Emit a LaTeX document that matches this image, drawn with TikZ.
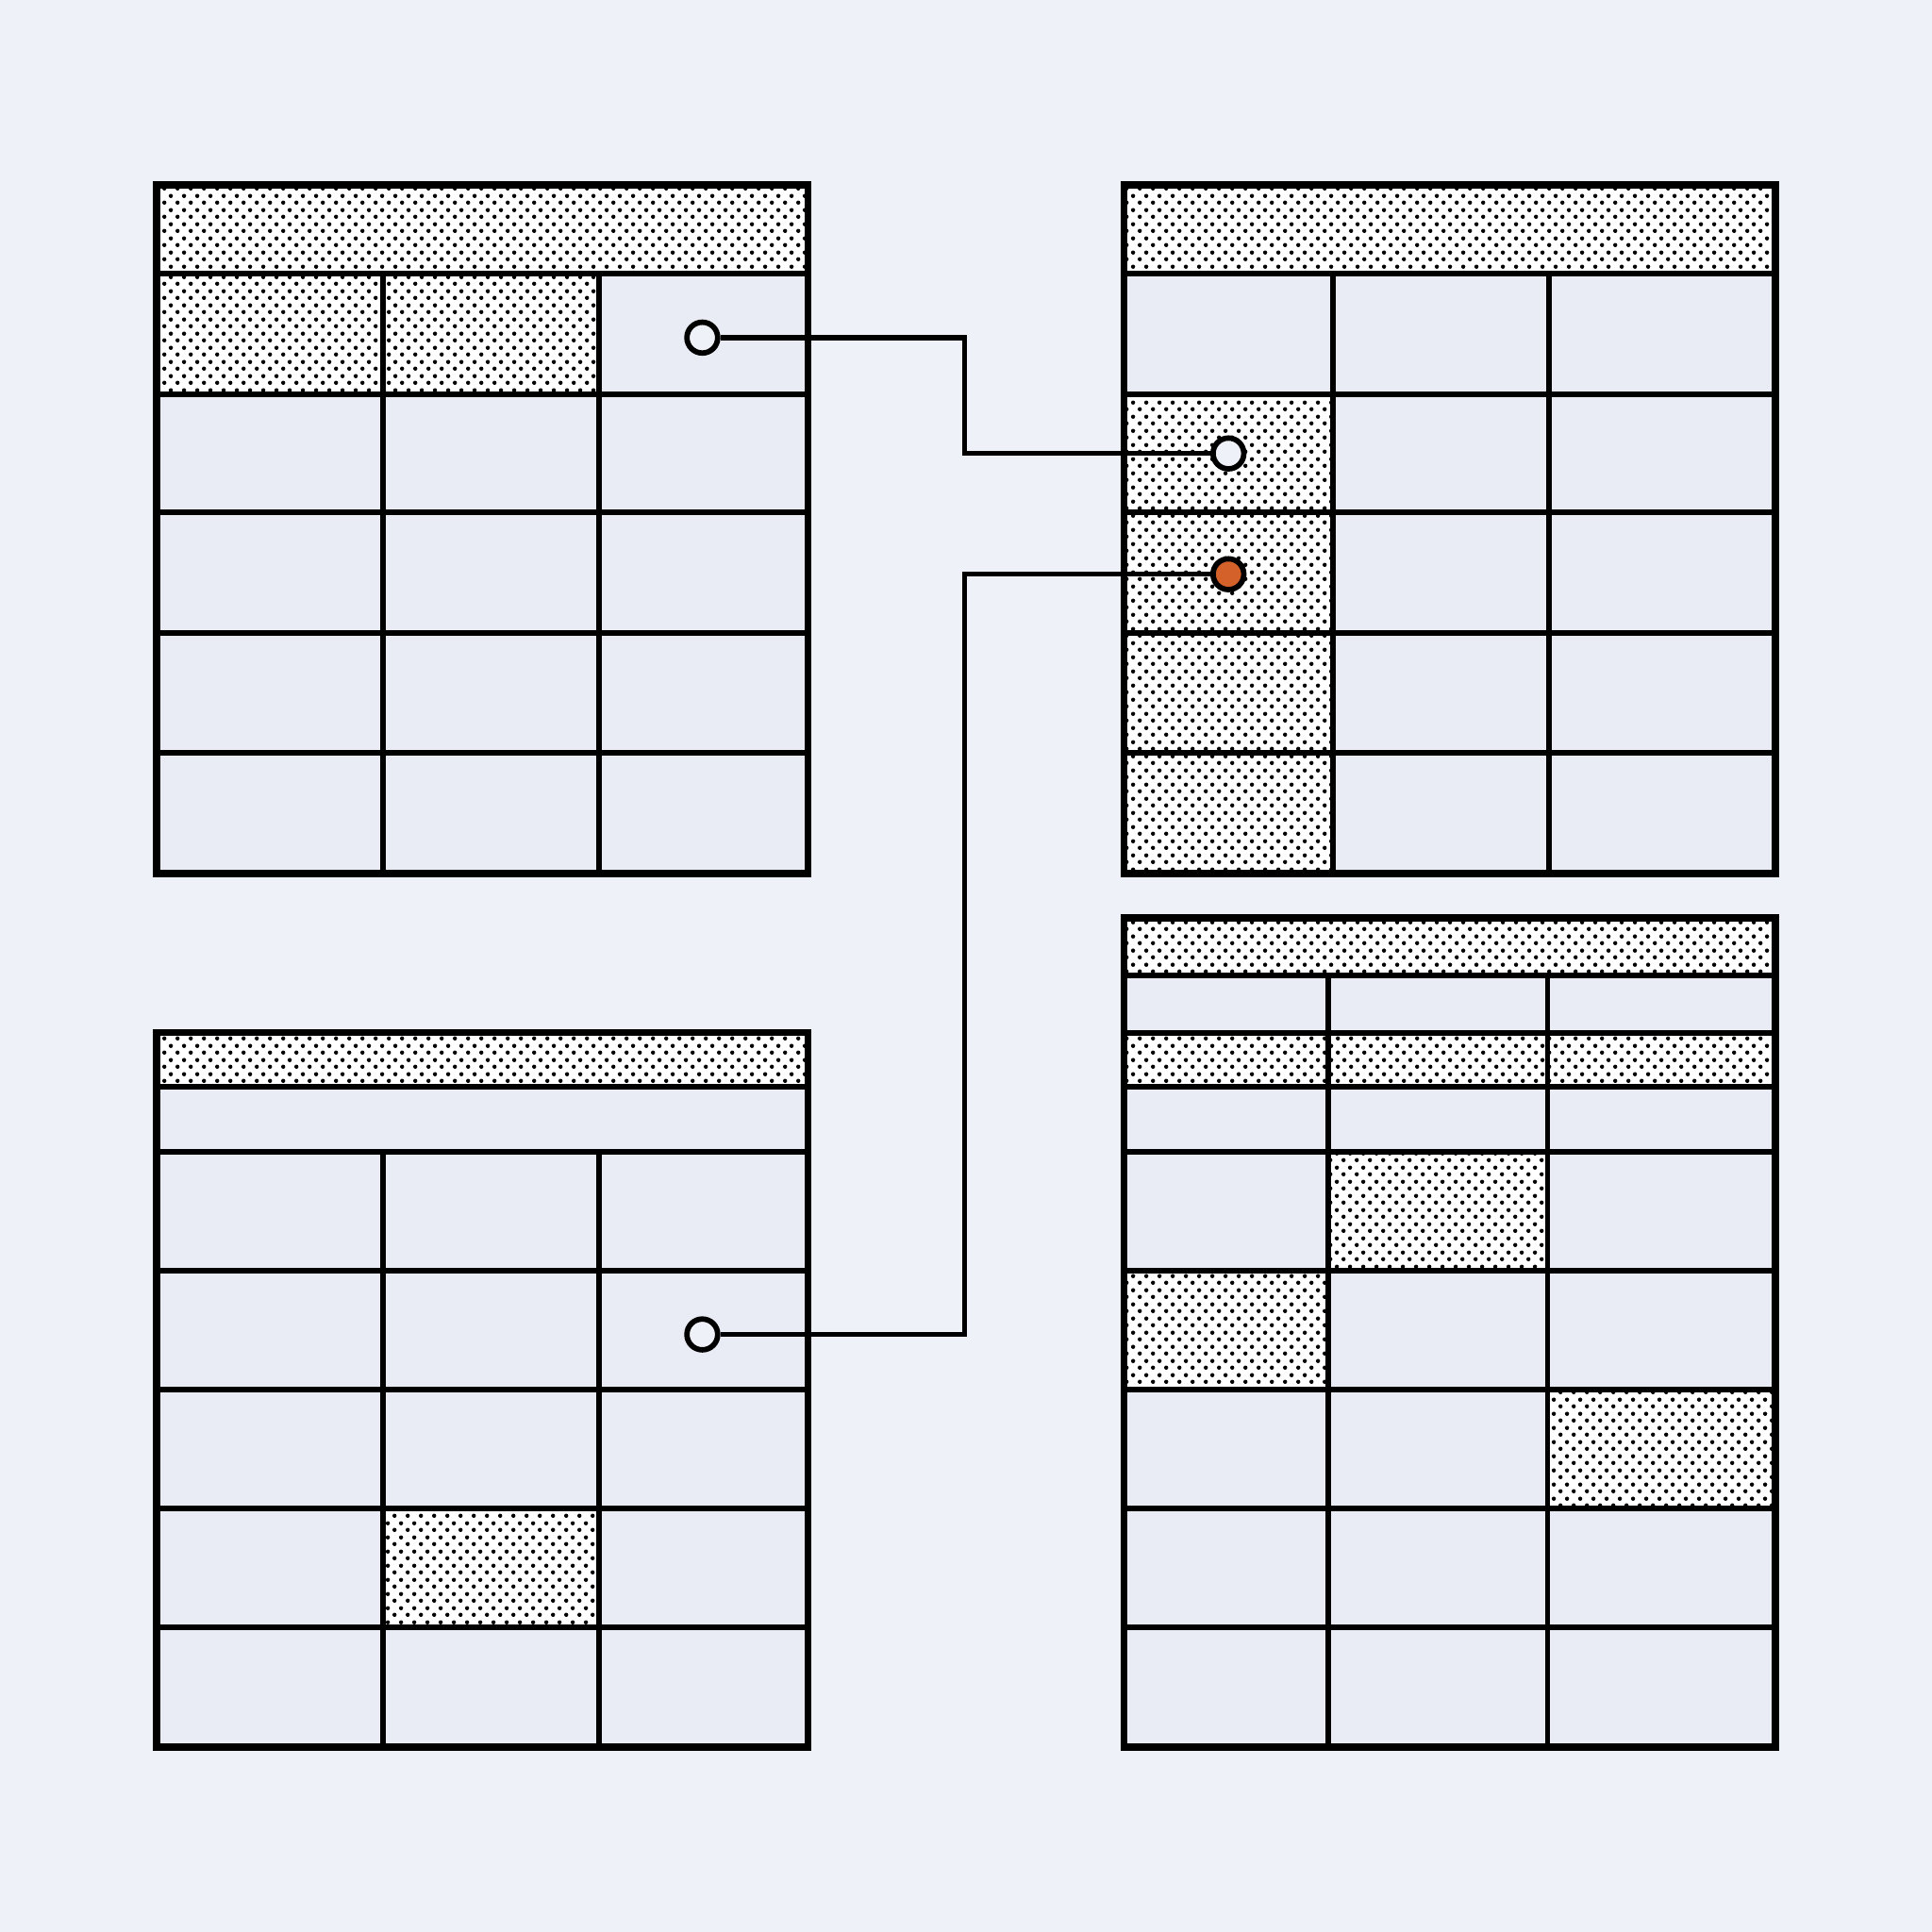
\documentclass[tikz,border=0pt]{standalone}
\usepackage{xcolor}
\usetikzlibrary{patterns}
\definecolor{paper}{HTML}{EEF1F8}
\definecolor{cellbg}{HTML}{E9ECF5}
\definecolor{ember}{HTML}{D5612A}
\pgfdeclarepatternformonly{halftone}{\pgfpointorigin}{\pgfpoint{3.13pt}{3.16pt}}{\pgfpoint{3.13pt}{3.16pt}}{%
  \pgfpathcircle{\pgfpoint{0.5pt}{0.5pt}}{0.5pt}%
  \pgfpathcircle{\pgfpoint{2.065pt}{2.08pt}}{0.5pt}%
  \pgfusepath{fill}}

\begin{document}
\begin{tikzpicture}[x=0.01cm, y=-0.01cm, line join=miter,
    grid/.style = {line width=1.3pt},
    frame/.style = {line width=1.6pt},
    wire/.style = {line width=1.2pt},
    dots/.style = {fill=white, postaction={pattern=halftone, pattern color=black}},
    socket/.style = {draw, circle, line width=1.25pt, fill=paper, minimum size=0.25cm, inner sep=0pt}]
  \fill[paper] (0,0) rectangle (1568,1568);

  % top left table
  \fill[cellbg] (127,150) rectangle (656,709);
  \path[dots] (127,150) rectangle (656,222);
  \path[dots] (127,222) rectangle (486,320);
  \foreach \y in {222,320,416,514,611} \draw[grid] (127,\y) -- (656,\y);
  \foreach \x in {311,486} \draw[grid] (\x,222) -- (\x,709);
  \draw[frame] (127,150) rectangle (656,709);

  % top right table
  \fill[cellbg] (912,150) rectangle (1441,709);
  \path[dots] (912,150) rectangle (1441,222);
  \path[dots] (912,320) rectangle (1082,709);
  \foreach \y in {222,320,416,514,611} \draw[grid] (912,\y) -- (1441,\y);
  \foreach \x in {1082,1257} \draw[grid] (\x,222) -- (\x,709);
  \draw[frame] (912,150) rectangle (1441,709);

  % bottom left table
  \fill[cellbg] (127,838) rectangle (656,1418);
  \path[dots] (127,838) rectangle (656,882);
  \path[dots] (311,1224) rectangle (486,1321);
  \foreach \y in {882,935,1031,1128,1224,1321} \draw[grid] (127,\y) -- (656,\y);
  \foreach \x in {311,486} \draw[grid] (\x,935) -- (\x,1418);
  \draw[frame] (127,838) rectangle (656,1418);

  % bottom right table
  \fill[cellbg] (912,745) rectangle (1441,1418);
  \path[dots] (912,745) rectangle (1441,792);
  \path[dots] (912,838) rectangle (1441,882);
  \path[dots] (1078,935) rectangle (1256,1031);
  \path[dots] (912,1031) rectangle (1078,1128);
  \path[dots] (1256,1128) rectangle (1441,1224);
  \foreach \y in {792,838,882,935,1031,1128,1224,1321} \draw[grid] (912,\y) -- (1441,\y);
  \foreach \x in {1078,1256} \draw[grid] (\x,792) -- (\x,1418);
  \draw[frame] (912,745) rectangle (1441,1418);

  \node[socket] (src1) at (570,274) {};
  \node[socket] (dst1) at (997,368) {};
  \node[socket] (src2) at (570,1083) {};
  \node[socket, fill=ember] (dst2) at (997,466) {};
  \coordinate (bend1) at (783,368);
  \coordinate (bend2) at (783,466);

  \draw[wire] (src1) -| (bend1) |- (dst1);
  \draw[wire] (src2) -| (bend2) |- (dst2);
\end{tikzpicture}
\end{document}
